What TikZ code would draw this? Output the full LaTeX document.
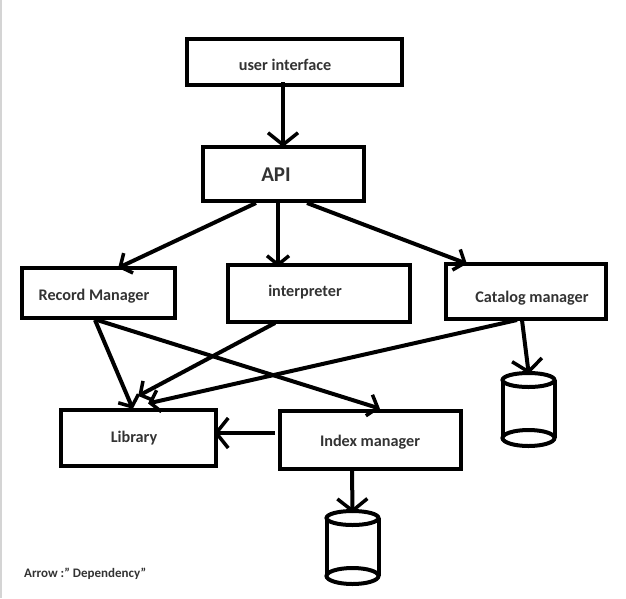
\documentclass[tikz,border=0pt]{standalone}
\usepackage{fontspec}
\setmainfont{Carlito}
\usetikzlibrary{arrows.meta,calc}
\definecolor{lbl}{HTML}{333333}
\tikzset{
  x=1pt,y=-1pt,
  boxnode/.style={draw=black,line width=4pt,fill=white,minimum width=#1,inner sep=0pt,outer sep=0pt,anchor=north west},
  lab/.style={text=lbl,font=\bfseries\fontsize{16.2}{18}\selectfont,inner sep=0pt},
  dep/.style={line width=4pt,-{Straight Barb[length=12pt,width=30pt,line width=3.5pt]},shorten >=-2pt},
  depsmall/.style={line width=4pt,-{Straight Barb[length=9pt,width=22pt,line width=3.5pt]},shorten >=-2pt},
  cylshape/.style={minimum width=52pt,inner sep=0pt,outer sep=0pt},
  cylline/.style={draw=black,line width=4pt,fill=white}
}
\begin{document}
\begin{tikzpicture}
\useasboundingbox (0,0) rectangle (626,598);
\fill[white] (0,0) rectangle (626,598);
\fill[black!17] (0,0) rectangle (2,598);
% boxes
\node[boxnode=215pt,minimum height=46pt] (ui) at (187,39) {};
\node[boxnode=161pt,minimum height=54pt] (api) at (203,147) {};
\node[boxnode=153pt,minimum height=50pt] (rec) at (22,268) {};
\node[boxnode=182pt,minimum height=57pt] (int) at (228,265) {};
\node[boxnode=160pt,minimum height=55pt] (cat) at (446,264) {};
\node[boxnode=155pt,minimum height=56pt] (lib) at (61,410) {};
\node[boxnode=181pt,minimum height=58pt] (idx) at (280,411) {};
% cylinders
\node[cylshape,minimum height=58pt] (cylA) at (528.5,409) {};
\node[cylshape,minimum height=58pt] (cylB) at (352.5,547) {};
\foreach \c in {cylA,cylB}{
  \draw[cylline] (\c.north west) -- (\c.south west) (\c.north east) -- (\c.south east);
  \draw[cylline] (\c.south) ellipse [x radius=26,y radius=8];
  \draw[cylline] (\c.north) ellipse [x radius=26,y radius=7];
}
% labels
\node[lab] (tui) at (285,65) {user interface};
\node[lab,font=\bfseries\fontsize{21}{23}\selectfont] (tapi) at (276,175) {API};
\node[lab] (trec) at (94,296) {Record Manager};
\node[lab] (tint) at (305,292) {interpreter};
\node[lab] (tcat) at (532,298) {Catalog manager};
\node[lab] (tlib) at (134,438) {Library};
\node[lab] (tidx) at (370,442) {Index manager};
\node[lab,anchor=west,font=\bfseries\fontsize{13}{15}\selectfont] (note) at (24,574) {Arrow :" Dependency"};
% connectors
\draw[dep] ($(ui.south west)+(96,-3)$) -- ($(api.north west)+(80,-2)$);
\draw[depsmall] ($(api.south west)+(75,0)$) -- ($(int.north west)+(50,0)$);
\draw[depsmall] ($(api.south west)+(53,2)$) -- ($(rec.north west)+(98,-1)$);
\draw[depsmall] ($(api.south west)+(104,2)$) -- ($(cat.north west)+(19,-1)$);
\draw[depsmall] ($(rec.south west)+(73,2)$) -- ($(lib.north west)+(71,-3)$);
\draw[depsmall] ($(rec.south west)+(75,2)$) -- ($(idx.north west)+(98,-3)$);
\draw[depsmall] ($(int.south west)+(47,1)$) -- ($(lib.north west)+(79,-15)$);
\draw[depsmall] ($(cat.south west)+(71,1)$) -- ($(lib.north west)+(89,-7)$);
\draw[dep] ($(cat.south west)+(76,1)$) -- ($(cylA.north)+(0,-8)$);
\draw[dep] ($(idx.west)+(-5,-7)$) -- ($(lib.east)+(0,-5)$);
\draw[dep] ($(idx.south west)+(72,1)$) -- ($(cylB.north)+(0,-7)$);
\end{tikzpicture}
\end{document}
